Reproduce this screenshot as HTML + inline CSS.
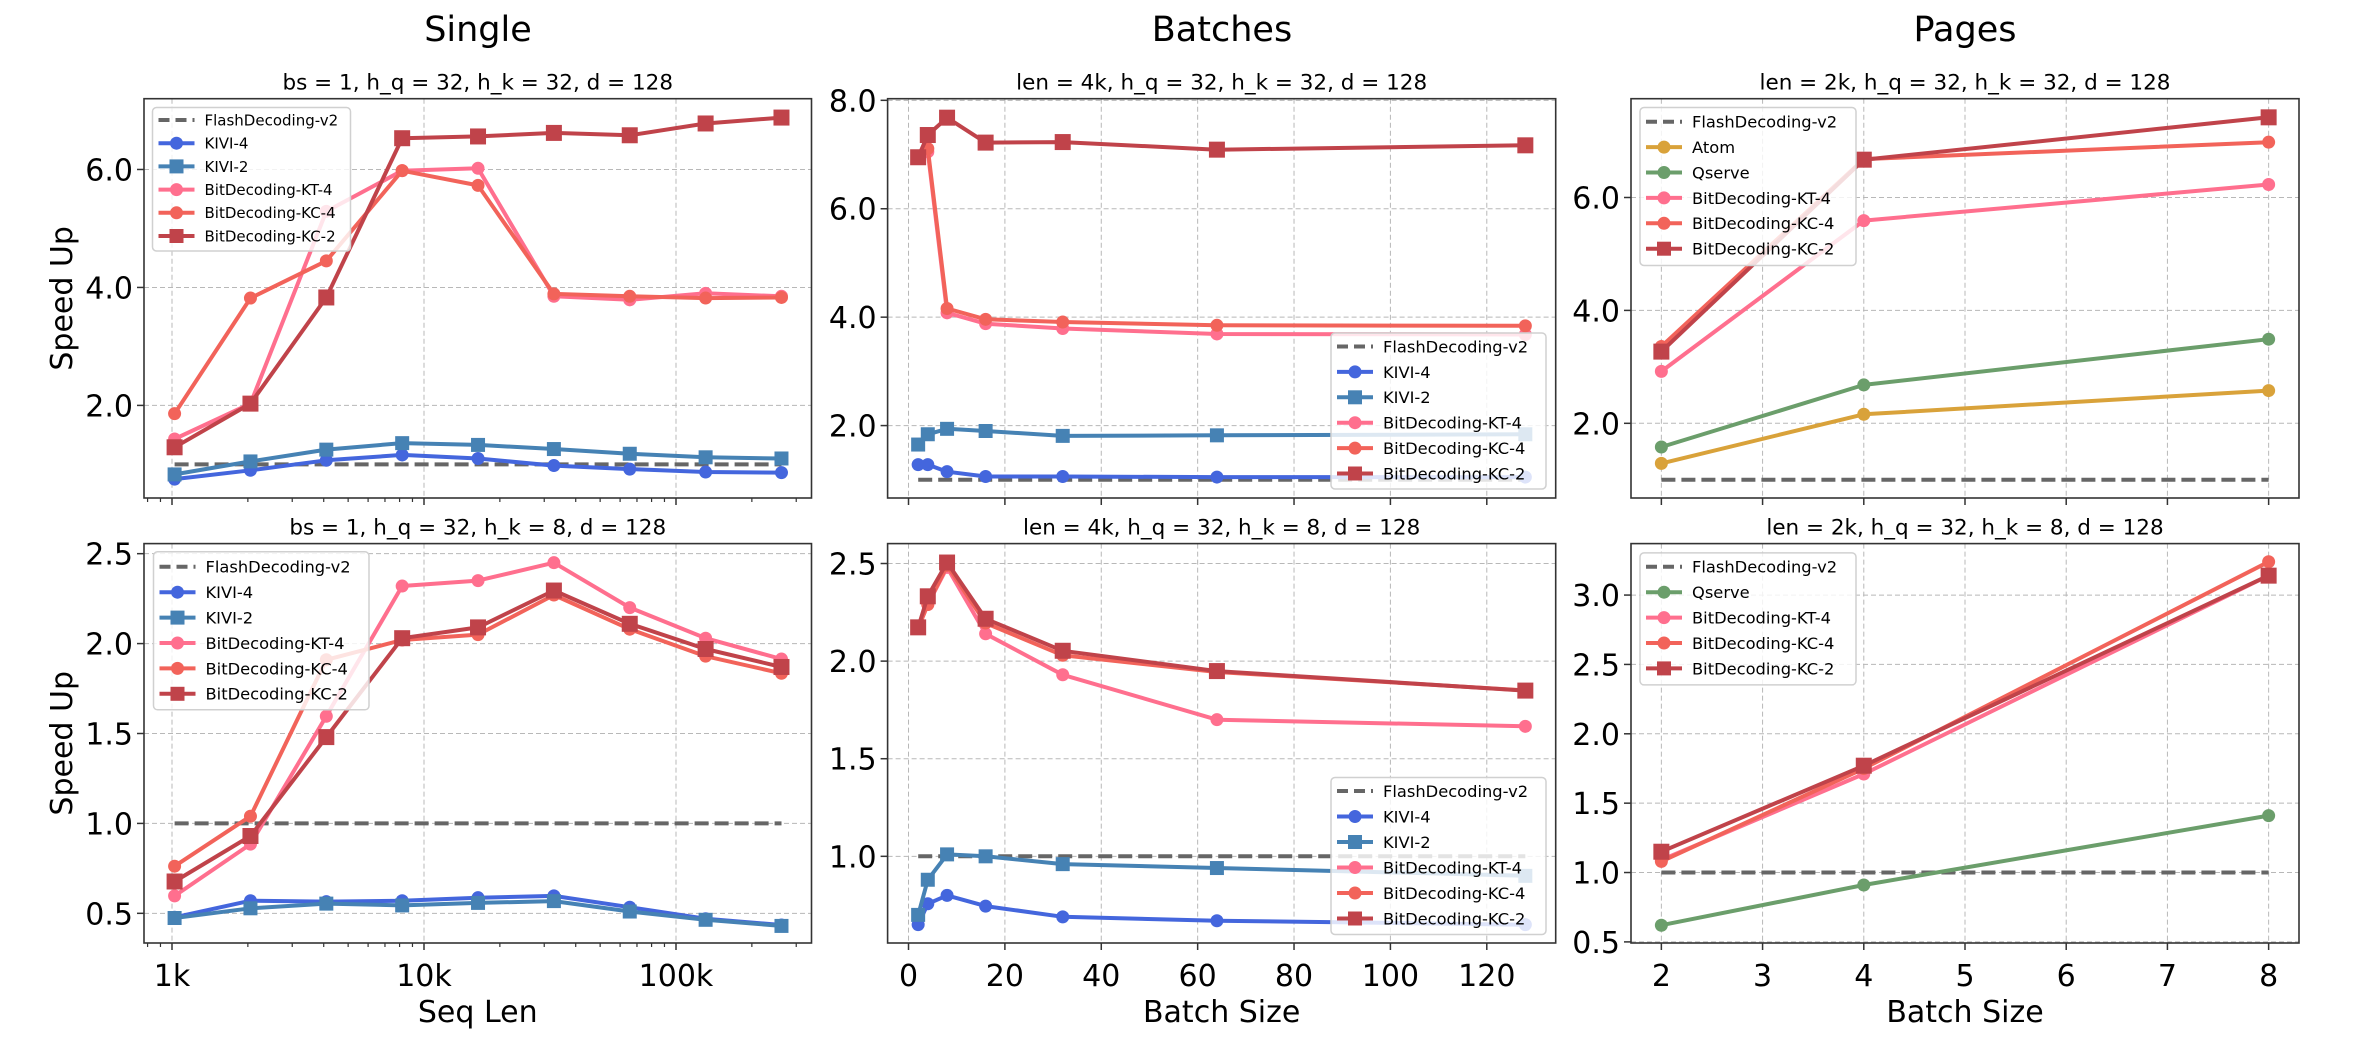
<!DOCTYPE html>
<html><head><meta charset="utf-8"><style>
html,body{margin:0;padding:0;background:#fff;}
svg{display:block;font-family:"DejaVu Sans","Liberation Sans",sans-serif;}
</style></head><body>
<svg id="fig" width="2354" height="1060" viewBox="0 0 2354 1060" xmlns="http://www.w3.org/2000/svg">
<text x="478" y="41" font-size="35" text-anchor="middle">Single</text>
<text x="1222" y="41" font-size="35" text-anchor="middle">Batches</text>
<text x="1965" y="41" font-size="35" text-anchor="middle">Pages</text>
</svg>
<script>
// ---- data ----
const seqLens = [1024, 2048, 4096, 8192, 16384, 32768, 65536, 131072, 262144];
const batchSizes = [2, 4, 8, 16, 32, 64, 128];
const pageBatch = [2, 4, 8];

// Single, h_k=32
const s1Kivi4 = [0.75, 0.90, 1.07, 1.16, 1.10, 0.98, 0.92, 0.87, 0.86];
const s1Kivi2 = [0.83, 1.05, 1.25, 1.36, 1.33, 1.26, 1.18, 1.12, 1.10];
const s1KT4 = [1.43, 2.03, 5.29, 5.98, 6.02, 3.85, 3.79, 3.90, 3.85];
const s1KC4 = [1.86, 3.82, 4.45, 5.98, 5.73, 3.89, 3.85, 3.82, 3.83];
const s1KC2 = [1.29, 2.03, 3.83, 6.53, 6.56, 6.62, 6.58, 6.78, 6.88];
// Single, h_k=8
const s2Kivi4 = [0.478, 0.57, 0.565, 0.57, 0.587, 0.597, 0.534, 0.47, 0.435];
const s2Kivi2 = [0.474, 0.528, 0.554, 0.544, 0.558, 0.568, 0.51, 0.464, 0.43];
const s2KT4 = [0.597, 0.885, 1.596, 2.32, 2.35, 2.45, 2.20, 2.03, 1.914];
const s2KC4 = [0.762, 1.04, 1.91, 2.02, 2.05, 2.27, 2.08, 1.93, 1.835];
const s2KC2 = [0.677, 0.93, 1.48, 2.03, 2.09, 2.295, 2.11, 1.97, 1.87];
// Batches, h_k=32
const b1Kivi4 = [1.28, 1.28, 1.15, 1.06, 1.06, 1.05, 1.05];
const b1Kivi2 = [1.65, 1.84, 1.94, 1.90, 1.81, 1.82, 1.84];
const b1KT4 = [6.95, 7.05, 4.08, 3.88, 3.79, 3.69, 3.68];
const b1KC4 = [6.95, 7.11, 4.16, 3.96, 3.91, 3.85, 3.84];
const b1KC2 = [6.95, 7.36, 7.68, 7.22, 7.23, 7.09, 7.17];
// Batches, h_k=8
const b2Kivi4 = [0.65, 0.757, 0.80, 0.745, 0.69, 0.67, 0.65];
const b2Kivi2 = [0.70, 0.88, 1.01, 1.0, 0.96, 0.94, 0.90];
const b2KT4 = [2.17, 2.29, 2.48, 2.14, 1.93, 1.70, 1.666];
const b2KC4 = [2.17, 2.29, 2.49, 2.195, 2.03, 1.944, 1.85];
const b2KC2 = [2.173, 2.332, 2.505, 2.217, 2.053, 1.949, 1.849];
// Pages, h_k=32
const p1Atom = [1.29, 2.16, 2.58];
const p1Qserve = [1.58, 2.68, 3.49];
const p1KT4 = [2.92, 5.59, 6.23];
const p1KC4 = [3.36, 6.68, 6.98];
const p1KC2 = [3.27, 6.67, 7.42];
// Pages, h_k=8
const p2Qserve = [0.62, 0.91, 1.41];
const p2KT4 = [1.09, 1.71, 3.14];
const p2KC4 = [1.08, 1.75, 3.24];
const p2KC2 = [1.15, 1.77, 3.14];
const flashVal = 1.0;

const yTicksS1 = [2.0, 4.0, 6.0];
const yTicksS2 = [0.5, 1.0, 1.5, 2.0, 2.5];
const yTicksB1 = [2.0, 4.0, 6.0, 8.0];
const yTicksB2 = [1.0, 1.5, 2.0, 2.5];
const yTicksP1 = [2.0, 4.0, 6.0];
const yTicksP2 = [0.5, 1.0, 1.5, 2.0, 2.5, 3.0];
const xTicksSeq = [1000, 10000, 100000];
const xTickLabelsSeq = ["1k", "10k", "100k"];
const xTicksBatch = [0, 20, 40, 60, 80, 100, 120];
const xTicksPage = [2, 3, 4, 5, 6, 7, 8];

// ---- styles ----
const C = {flash:"#666666", kivi4:"#4466DD", kivi2:"#4682B4", kt4:"#FF6F8E", kc4:"#F2635A", kc2:"#C0434A", atom:"#D9A23A", qserve:"#6B9E6B"};
const NS = "http://www.w3.org/2000/svg";
const svg = document.getElementById("fig");
function mk(tag, attrs, parent){
  const e = document.createElementNS(NS, tag);
  for (const k in attrs) e.setAttribute(k, attrs[k]);
  (parent||svg).appendChild(e);
  return e;
}

function drawPanel(P){
  const g = mk("g", {});
  
  
  const tx = P.log ? (v)=> P.x0 + (Math.log10(v)-Math.log10(P.xmin))/(Math.log10(P.xmax)-Math.log10(P.xmin))*(P.x1-P.x0)
                   : (v)=> P.x0 + (v-P.xmin)/(P.xmax-P.xmin)*(P.x1-P.x0);
  const ty = (v)=> P.y1 - (v-P.ymin)/(P.ymax-P.ymin)*(P.y1-P.y0);
  // grid
  P.xticks.forEach((t)=>{
    const l = mk("line",{x1:tx(t),x2:tx(t),y1:P.y0,y2:P.y1,stroke:"#b8b8b8","stroke-width":1,"stroke-dasharray":"5,3"},g);
    
    
  });
  P.yticks.forEach((t)=>{
    const l = mk("line",{x1:P.x0,x2:P.x1,y1:ty(t),y2:ty(t),stroke:"#b8b8b8","stroke-width":1,"stroke-dasharray":"5,3"},g);
    
    
  });
  // series
  P.series.forEach((s)=>{
    const sg = mk("g",{},g);
    
    
    const pts = s.x.map((xv,i)=> tx(xv).toFixed(1)+","+ty(s.y[i]).toFixed(1)).join(" ");
    const pl = mk("polyline",{points:pts,fill:"none",stroke:s.color,"stroke-width":4,"stroke-linejoin":"round"},sg);
    if (s.dash) pl.setAttribute("stroke-dasharray","14,6");
    
    
    if (s.marker){
      s.x.forEach((xv,i)=>{
        const cx = tx(xv), cy = ty(s.y[i]);
        let m;
        if (s.marker==="o") m = mk("circle",{cx:cx,cy:cy,r:6.5,fill:s.color},sg);
        else { const h = s.big?8:7; m = mk("rect",{x:cx-h,y:cy-h,width:2*h,height:2*h,fill:s.color},sg); }
        
        
      });
    }
  });
  // frame
  const fr = mk("rect",{x:P.x0,y:P.y0,width:P.x1-P.x0,height:P.y1-P.y0,fill:"none",stroke:"#333","stroke-width":1.6},g);
  
  
  // y ticks
  P.yticks.forEach((t)=>{
    mk("line",{x1:P.x0-7,x2:P.x0,y1:ty(t),y2:ty(t),stroke:"#333","stroke-width":1.5},g);
    const tl = mk("text",{x:P.x0-11,y:ty(t)+11,"font-size":30,"text-anchor":"end",fill:"#000"},g);
    tl.textContent = t.toFixed(1);
    
    
  });
  // x ticks
  P.xticks.forEach((t,i)=>{
    mk("line",{x1:tx(t),x2:tx(t),y1:P.y1,y2:P.y1+7,stroke:"#333","stroke-width":1.5},g);
    if (P.showX){
      const tl = mk("text",{x:tx(t),y:P.y1+43,"font-size":30,"text-anchor":"middle",fill:"#000"},g);
      tl.textContent = P.xlabels ? P.xlabels[i] : String(t);
      
      
    }
  });
  if (P.log){
    for (let d=2; d<=5; d++){
      for (let k=1;k<=9;k++){
        const v = k*Math.pow(10,d);
        if (k===1 || v<P.xmin || v>P.xmax) continue;
        mk("line",{x1:tx(v),x2:tx(v),y1:P.y1,y2:P.y1+4,stroke:"#333","stroke-width":1.2},g);
      }
    }
  }
  // subtitle
  const st = mk("text",{x:(P.x0+P.x1)/2,y:P.y0-9,"font-size":21.5,"text-anchor":"middle",fill:"#000"},g);
  st.textContent = P.title;
  
  
  if (P.ylabel){
    const yl = mk("text",{x:0,y:0,"font-size":30,"text-anchor":"middle",transform:"translate("+72+","+((P.y0+P.y1)/2)+") rotate(-90)"},g);
    yl.textContent = P.ylabel;
    
    
  }
  if (P.xlabel){
    const xl = mk("text",{x:(P.x0+P.x1)/2,y:P.y1+79,"font-size":30,"text-anchor":"middle"},g);
    xl.textContent = P.xlabel;
    
    
  }
  // legend
  const L = P.legend;
  const lg = mk("g",{},g);
  
  
  mk("rect",{x:L.x,y:L.y,width:L.w,height:L.h,rx:4,fill:"#fff","fill-opacity":0.82,stroke:"#d0d0d0","stroke-width":1.5},lg);
  P.series.forEach((s,i)=>{
    const ry = L.r0 + i*L.dr;
    const eg = mk("g",{},lg);
    
    
    const hl = mk("line",{x1:L.x+6,x2:L.x+42,y1:ry,y2:ry,stroke:s.color,"stroke-width":4},eg);
    if (s.dash) hl.setAttribute("stroke-dasharray","11,6");
    if (s.marker==="o") mk("circle",{cx:L.x+24,cy:ry,r:6.5,fill:s.color},eg);
    else if (s.marker==="s") mk("rect",{x:L.x+17,y:ry-7,width:14,height:14,fill:s.color},eg);
    const t = mk("text",{x:L.x+52,y:ry+L.fs*0.36,"font-size":L.fs,fill:"#000"},eg);
    t.textContent = s.label;
  });
}

function flash(xs){ return xs.map(()=>flashVal); }
function S(key,label,color,marker,x,y,extra){ const o={key:key,label:label,color:color,marker:marker,x:x,y:y}; if(extra) Object.assign(o,extra); return o; }

const top0=98.7, top1=498, bot0=543.6, bot1=943;
const lx0=144, lx1=811.5, mx0=887.6, mx1=1555.7, rx0=1631, rx1=2299;
const seqMin = Math.pow(10, 3 - 28/252), seqMax = Math.pow(10, 3 + 639.5/252);

drawPanel({name:"panel-single-hk32", x0:lx0,x1:lx1,y0:top0,y1:top1, log:true, xmin:seqMin, xmax:seqMax, ymin:0.43, ymax:7.2,
  xticks:xTicksSeq, yticks:yTicksS1, showX:false, title:"bs = 1, h_q = 32, h_k = 32, d = 128", ylabel:"Speed Up",
  series:[S("flash","FlashDecoding-v2",C.flash,null,seqLens,flash(seqLens),{dash:true}),
    S("kivi-4","KIVI-4",C.kivi4,"o",seqLens,s1Kivi4), S("kivi-2","KIVI-2",C.kivi2,"s",seqLens,s1Kivi2),
    S("bitdecoding-kt-4","BitDecoding-KT-4",C.kt4,"o",seqLens,s1KT4), S("bitdecoding-kc-4","BitDecoding-KC-4",C.kc4,"o",seqLens,s1KC4),
    S("bitdecoding-kc-2","BitDecoding-KC-2",C.kc2,"s",seqLens,s1KC2,{big:true})],
  legend:{x:152.5,y:107.5,w:198,h:143.5,r0:120,dr:23.2,fs:15}});

drawPanel({name:"panel-single-hk8", x0:lx0,x1:lx1,y0:bot0,y1:bot1, log:true, xmin:seqMin, xmax:seqMax, ymin:0.335, ymax:2.556,
  xticks:xTicksSeq, xlabels:xTickLabelsSeq, yticks:yTicksS2, showX:true, title:"bs = 1, h_q = 32, h_k = 8, d = 128", ylabel:"Speed Up", xlabel:"Seq Len",
  series:[S("flash","FlashDecoding-v2",C.flash,null,seqLens,flash(seqLens),{dash:true}),
    S("kivi-4","KIVI-4",C.kivi4,"o",seqLens,s2Kivi4), S("kivi-2","KIVI-2",C.kivi2,"s",seqLens,s2Kivi2),
    S("bitdecoding-kt-4","BitDecoding-KT-4",C.kt4,"o",seqLens,s2KT4), S("bitdecoding-kc-4","BitDecoding-KC-4",C.kc4,"o",seqLens,s2KC4),
    S("bitdecoding-kc-2","BitDecoding-KC-2",C.kc2,"s",seqLens,s2KC2,{big:true})],
  legend:{x:153.5,y:551.8,w:215.5,h:158,r0:566.8,dr:25.4,fs:16.3}});

drawPanel({name:"panel-batches-hk32", x0:mx0,x1:mx1,y0:top0,y1:top1, log:false, xmin:-4.34, xmax:134.3, ymin:0.664, ymax:8.03,
  xticks:xTicksBatch, yticks:yTicksB1, showX:false, title:"len = 4k, h_q = 32, h_k = 32, d = 128",
  series:[S("flash","FlashDecoding-v2",C.flash,null,batchSizes,flash(batchSizes),{dash:true}),
    S("kivi-4","KIVI-4",C.kivi4,"o",batchSizes,b1Kivi4), S("kivi-2","KIVI-2",C.kivi2,"s",batchSizes,b1Kivi2),
    S("bitdecoding-kt-4","BitDecoding-KT-4",C.kt4,"o",batchSizes,b1KT4), S("bitdecoding-kc-4","BitDecoding-KC-4",C.kc4,"o",batchSizes,b1KC4),
    S("bitdecoding-kc-2","BitDecoding-KC-2",C.kc2,"s",batchSizes,b1KC2,{big:true})],
  legend:{x:1331,y:333,w:215,h:156,r0:346.5,dr:25.4,fs:16.3}});

drawPanel({name:"panel-batches-hk8", x0:mx0,x1:mx1,y0:bot0,y1:bot1, log:false, xmin:-4.34, xmax:134.3, ymin:0.556, ymax:2.602,
  xticks:xTicksBatch, yticks:yTicksB2, showX:true, title:"len = 4k, h_q = 32, h_k = 8, d = 128", xlabel:"Batch Size",
  series:[S("flash","FlashDecoding-v2",C.flash,null,batchSizes,flash(batchSizes),{dash:true}),
    S("kivi-4","KIVI-4",C.kivi4,"o",batchSizes,b2Kivi4), S("kivi-2","KIVI-2",C.kivi2,"s",batchSizes,b2Kivi2),
    S("bitdecoding-kt-4","BitDecoding-KT-4",C.kt4,"o",batchSizes,b2KT4), S("bitdecoding-kc-4","BitDecoding-KC-4",C.kc4,"o",batchSizes,b2KC4),
    S("bitdecoding-kc-2","BitDecoding-KC-2",C.kc2,"s",batchSizes,b2KC2,{big:true})],
  legend:{x:1331,y:777.5,w:215,h:157,r0:791,dr:25.5,fs:16.3}});

drawPanel({name:"panel-pages-hk32", x0:rx0,x1:rx1,y0:top0,y1:top1, log:false, xmin:1.7, xmax:8.3, ymin:0.677, ymax:7.75,
  xticks:xTicksPage, yticks:yTicksP1, showX:false, title:"len = 2k, h_q = 32, h_k = 32, d = 128",
  series:[S("flash","FlashDecoding-v2",C.flash,null,pageBatch,flash(pageBatch),{dash:true}),
    S("atom","Atom",C.atom,"o",pageBatch,p1Atom), S("qserve","Qserve",C.qserve,"o",pageBatch,p1Qserve),
    S("bitdecoding-kt-4","BitDecoding-KT-4",C.kt4,"o",pageBatch,p1KT4), S("bitdecoding-kc-4","BitDecoding-KC-4",C.kc4,"o",pageBatch,p1KC4),
    S("bitdecoding-kc-2","BitDecoding-KC-2",C.kc2,"s",pageBatch,p1KC2,{big:true})],
  legend:{x:1640,y:107.5,w:216,h:158,r0:121.7,dr:25.4,fs:16.3}});

drawPanel({name:"panel-pages-hk8", x0:rx0,x1:rx1,y0:bot0,y1:bot1, log:false, xmin:1.7, xmax:8.3, ymin:0.492, ymax:3.371,
  xticks:xTicksPage, yticks:yTicksP2, showX:true, title:"len = 2k, h_q = 32, h_k = 8, d = 128", xlabel:"Batch Size",
  series:[S("flash","FlashDecoding-v2",C.flash,null,pageBatch,flash(pageBatch),{dash:true}),
    S("qserve","Qserve",C.qserve,"o",pageBatch,p2Qserve),
    S("bitdecoding-kt-4","BitDecoding-KT-4",C.kt4,"o",pageBatch,p2KT4), S("bitdecoding-kc-4","BitDecoding-KC-4",C.kc4,"o",pageBatch,p2KC4),
    S("bitdecoding-kc-2","BitDecoding-KC-2",C.kc2,"s",pageBatch,p2KC2,{big:true})],
  legend:{x:1640,y:552.9,w:216,h:132,r0:566.8,dr:25.4,fs:16.3}});
</script>
</body></html>
